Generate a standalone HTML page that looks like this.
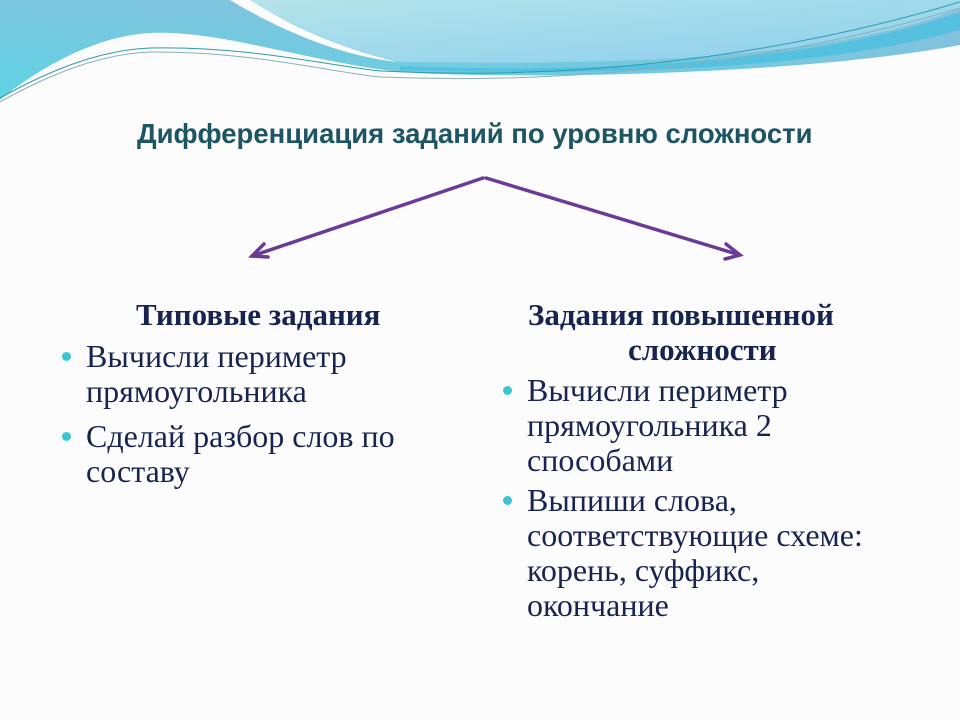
<!DOCTYPE html>
<html><head><meta charset="utf-8"><style>
body{margin:0;width:960px;height:720px;overflow:hidden;background:#fcfcfd;position:relative;font-family:"Liberation Serif",serif;color:#18244f}
.t{position:absolute;white-space:nowrap}
.b{position:absolute;width:9px;height:9px;border-radius:50%;background:#3cc6cf}
.s{font-size:32px;line-height:35px}
.h{font-size:31px;font-weight:bold;line-height:35px}
</style></head><body>
<svg width="960" height="720" style="position:absolute;left:0;top:0">
<defs>
<linearGradient id="g1" x1="0" y1="1" x2="0.6" y2="0"><stop offset="0" stop-color="#5ed4e4"/><stop offset="1" stop-color="#86c0dc"/></linearGradient>
<linearGradient id="g2" x1="0" y1="0" x2="1" y2="1"><stop offset="0" stop-color="#b4e4ea"/><stop offset="1" stop-color="#8ccfee"/></linearGradient>
</defs>
<path d="M0,0 H960 V45 C800,75 520,80 400,72 C300,60 220,30 150,33 C90,36 30,75 0,100 Z" fill="url(#g1)"/>
<path d="M248,0 H960 V8 C820,66 560,64 400,62 C340,48 290,25 248,0 Z" fill="url(#g2)"/>
<path d="M230,0 L250,0 C290,26 340,48 398,62 C340,56 280,30 230,0 Z" fill="#fcfcfd"/>
<path d="M400,66 C600,74 820,62 960,12 L960,30 C820,70 600,76 400,70 Z" fill="#4dbfe0" opacity="0.85"/>
<path d="M0,98 C50,70 100,50 150,48 C250,46 330,66 380,71 C600,82 800,50 960,2" stroke="#2f9aa8" stroke-width="1" fill="none"/>
<path d="M0,102 C50,74 100,54 150,52 C250,51 330,72 380,77 C600,86 800,56 960,8" stroke="#8ab0b8" stroke-width="1" fill="none"/>
<g stroke="#6a3a96" stroke-width="3.5" fill="none" stroke-linecap="round">
<line x1="483" y1="178" x2="252" y2="256"/>
<line x1="486" y1="178" x2="740" y2="255"/>
<polyline points="264,244 252,256 268,257"/>
<polyline points="726,244 740,255 725,259"/>
</g>
</svg>
<div class="t" style="left:137px;top:118px;font-family:'Liberation Sans',sans-serif;font-weight:bold;font-size:27.5px;color:#1d5563">Дифференциация заданий по уровню сложности</div>
<div class="t h" style="left:136px;top:297px">Типовые задания</div>
<div class="b" style="left:62px;top:352px"></div>
<div class="t s" style="left:86px;top:339px">Вычисли периметр<br>прямоугольника</div>
<div class="b" style="left:62px;top:432px"></div>
<div class="t s" style="left:86px;top:419px">Сделай разбор слов по<br>составу</div>
<div class="t h" style="left:528px;top:297px">Задания повышенной</div>
<div class="t h" style="left:628px;top:332px">сложности</div>
<div class="b" style="left:503px;top:386px"></div>
<div class="t s" style="left:527px;top:373px">Вычисли периметр<br>прямоугольника 2<br>способами</div>
<div class="b" style="left:503px;top:496px"></div>
<div class="t s" style="left:527px;top:483px">Выпиши слова,<br>соответствующие схеме:<br>корень, суффикс,<br>окончание</div>
</body></html>
